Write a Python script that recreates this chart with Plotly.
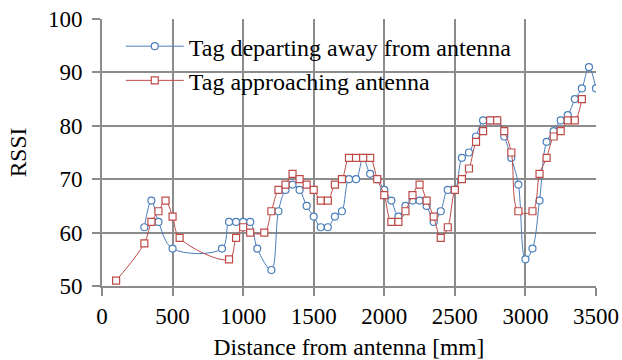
import plotly.graph_objects as go

# Tag departing away from antenna
depart_x = [300, 350, 400, 500, 850, 900, 950, 1000, 1050, 1100, 1200, 1250, 1300, 1350,
            1400, 1450, 1500, 1550, 1600, 1650, 1700, 1750, 1800, 1850, 1900, 1950, 2000,
            2050, 2100, 2150, 2200, 2250, 2300, 2350, 2400, 2450, 2500, 2550, 2600, 2650,
            2700, 2750, 2800, 2850, 2900, 2950, 3000, 3050, 3100, 3150, 3200, 3250, 3300,
            3350, 3400, 3450, 3500]
depart_y = [61, 66, 62, 57, 57, 62, 62, 62, 62, 57, 53, 64, 68, 69,
            68, 65, 63, 61, 61, 63, 64, 70, 70, 74, 71, 70, 68,
            66, 63, 65, 66, 66, 65, 62, 64, 68, 68, 74, 75, 78,
            81, 81, 81, 78, 74, 69, 55, 57, 66, 77, 79, 81, 82,
            85, 87, 91, 87]

# Tag approaching antenna
approach_x = [100, 300, 350, 400, 450, 500, 550, 900, 950, 1000, 1050, 1150, 1200, 1250,
              1300, 1350, 1400, 1450, 1500, 1550, 1600, 1650, 1700, 1750, 1800, 1850, 1900,
              1950, 2000, 2050, 2100, 2150, 2200, 2250, 2300, 2350, 2400, 2450, 2500, 2550,
              2600, 2650, 2700, 2750, 2800, 2850, 2900, 2950, 3050, 3100, 3150, 3200, 3250,
              3300, 3350, 3400]
approach_y = [51, 58, 62, 64, 66, 63, 59, 55, 59, 61, 60, 60, 64, 68,
              69, 71, 70, 69, 68, 66, 66, 69, 70, 74, 74, 74, 74,
              70, 67, 62, 62, 64, 67, 69, 66, 63, 59, 61, 68, 70,
              72, 77, 79, 81, 81, 79, 75, 64, 64, 71, 74, 78, 79,
              81, 81, 85]

x_ticks = [0, 500, 1000, 1500, 2000, 2500, 3000, 3500]
y_ticks = [50, 60, 70, 80, 90, 100]

BLUE = "#4A7EBB"
RED = "#BE4B48"
GRID = "#8C8C8C"
FONT = "Liberation Serif"

fig = go.Figure()
fig.add_trace(go.Scatter(
    x=depart_x, y=depart_y, mode="lines+markers",
    name="Tag departing away from antenna",
    line=dict(color=BLUE, width=1, shape="spline", smoothing=1),
    marker=dict(symbol="circle", size=7, color="white", line=dict(color=BLUE, width=1.2)),
))
fig.add_trace(go.Scatter(
    x=approach_x, y=approach_y, mode="lines+markers",
    name="Tag approaching antenna",
    line=dict(color=RED, width=1, shape="spline", smoothing=1),
    marker=dict(symbol="square", size=7, color="white", line=dict(color=RED, width=1.2)),
))

axis_common = dict(
    showgrid=True, gridcolor=GRID, gridwidth=2,
    showline=True, linecolor=GRID, linewidth=2,
    ticks="outside", ticklen=8, tickcolor=GRID, tickwidth=2,
    zeroline=False, mirror=False, automargin=False,
    tickfont=dict(family=FONT, size=23, color="black"),
)

fig.update_layout(
    width=622, height=360,
    margin=dict(l=102, r=26, t=19, b=74, pad=0, autoexpand=False),
    paper_bgcolor="white", plot_bgcolor="white",
    font=dict(family=FONT, size=23, color="black"),
    xaxis=dict(range=[0, 3500], tickvals=x_ticks, ticklabelstandoff=0,
               title=dict(text="Distance from antenna [mm]", font=dict(family=FONT, size=23.5), standoff=14),
               **axis_common),
    yaxis=dict(range=[50, 100], tickvals=y_ticks, ticklabelstandoff=5,
               title=dict(text="RSSI", font=dict(family=FONT, size=23.5), standoff=15),
               **axis_common),
    showlegend=True,
    legend=dict(x=0.038, y=0.981, xanchor="left", yanchor="top",
                bgcolor="rgba(0,0,0,0)", borderwidth=0,
                font=dict(family=FONT, size=24, color="black"),
                itemwidth=58, tracegroupgap=0),
    shapes=[dict(type="rect", xref="paper", yref="paper",
                 x0=0.0168, x1=0.883, y0=0.693, y1=0.959,
                 fillcolor="white", line=dict(width=0), layer="between")],
)

fig.write_html("out.html")
